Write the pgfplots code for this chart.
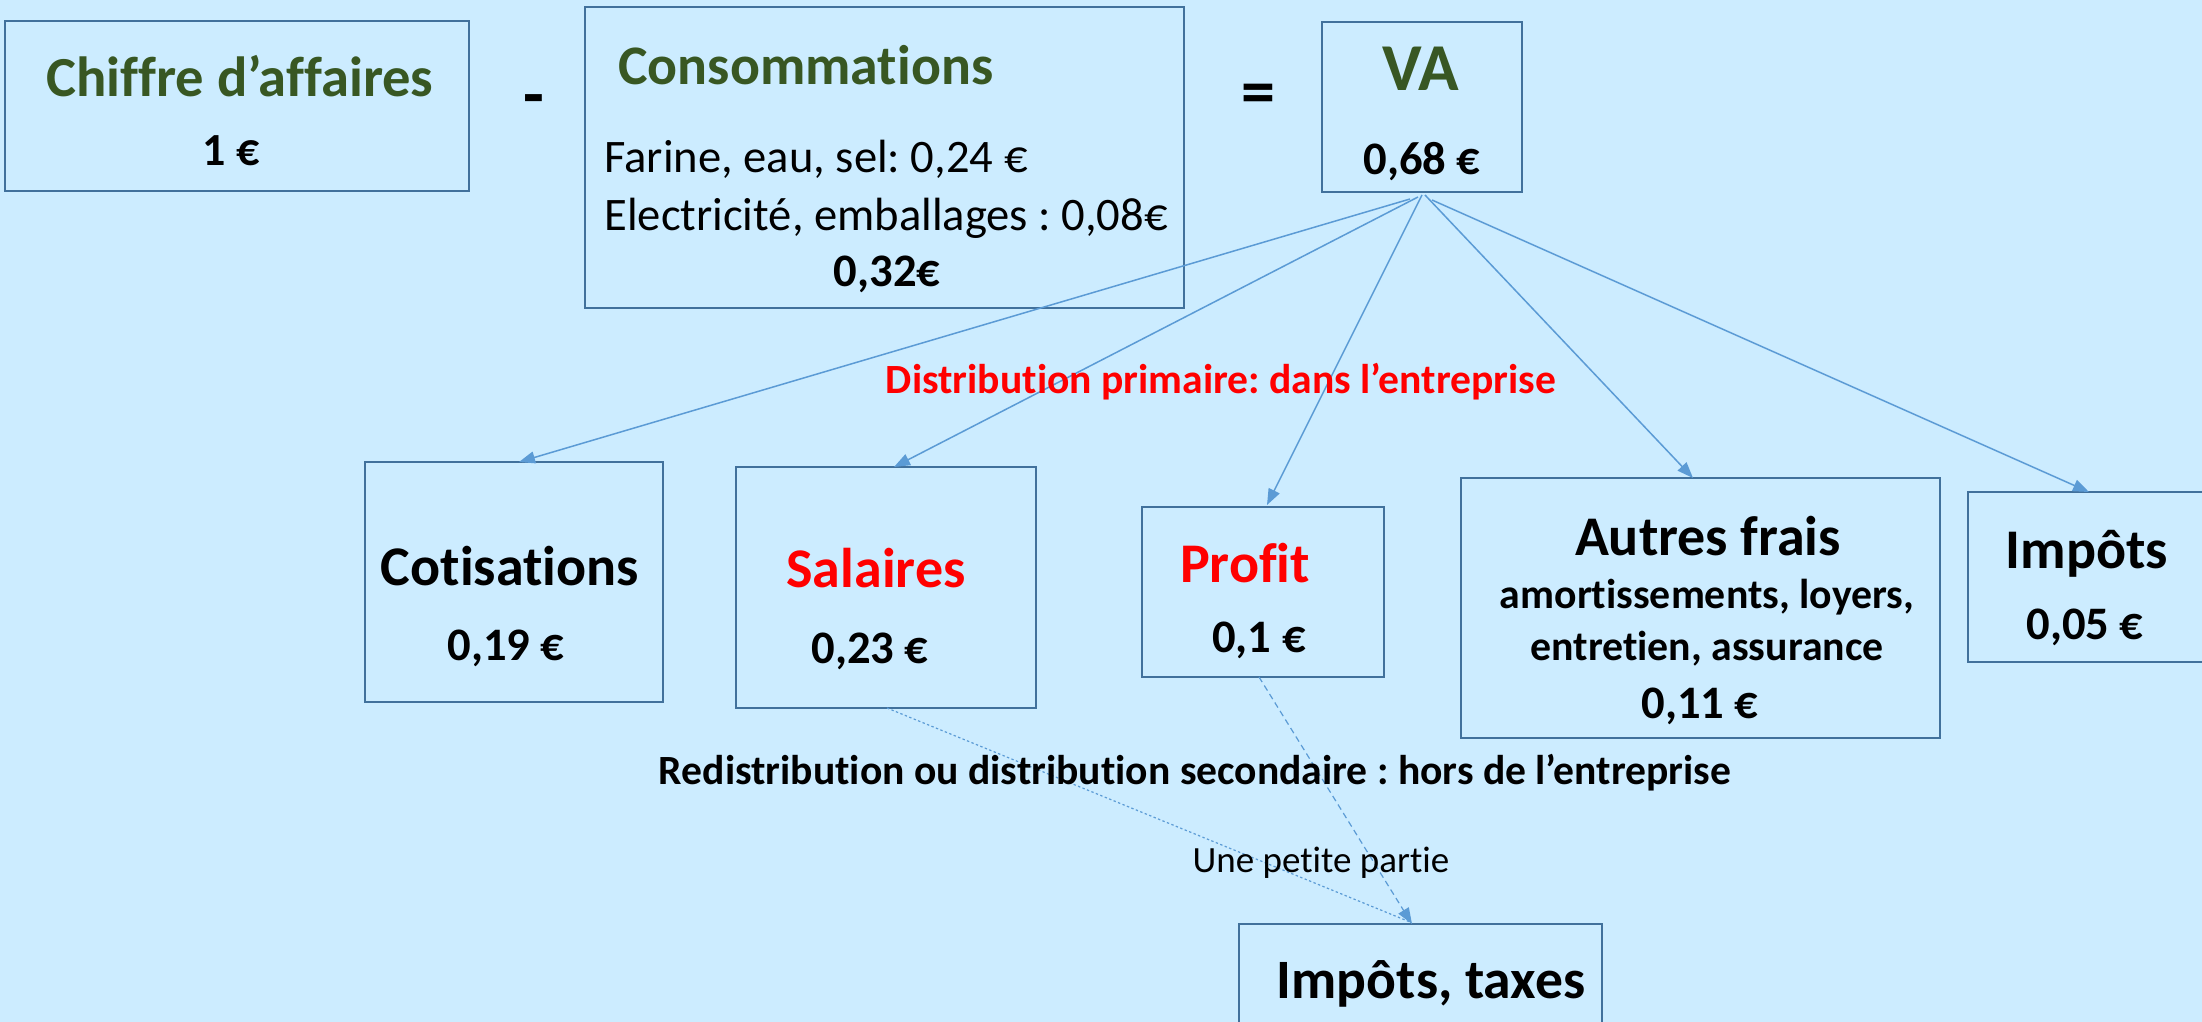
\documentclass[border=0pt]{standalone}
\usepackage{pgfplots}
\pgfplotsset{compat=1.18}
\usepackage{fontspec}
\setmainfont{Carlito}[Ligatures={NoCommon}]
\usetikzlibrary{arrows.meta}
\definecolor{bg}{RGB}{204,236,255}
\definecolor{boxc}{RGB}{65,113,156}
\definecolor{arr}{RGB}{91,155,213}
\definecolor{grn}{RGB}{56,87,35}
\newcommand{\fs}[1]{\fontsize{#1}{#1}\selectfont}
\frenchspacing
\begin{document}
\frenchspacing
\begin{tikzpicture}
\begin{axis}[name=ax, scale only axis, width=1101pt, height=511pt,
  xmin=0, xmax=2202, ymin=0, ymax=1022, y dir=reverse, hide axis, clip=false]
\fill[bg] (0,0) rectangle (2202,1022);
% boxes
\begin{scope}[draw=boxc, line width=1.3pt]
\draw (5,21) rectangle (469,191);
\draw (585,7) rectangle (1184,308);
\draw (1322,22) rectangle (1522,192);
\draw (365,462) rectangle (663,702);
\draw (736,467) rectangle (1036,708);
\draw (1142,507) rectangle (1384,677);
\draw (1461,478) rectangle (1940,738);
\draw (1968,492) rectangle (2210,662);
\draw (1239,1030) -- (1239,924) -- (1602,924) -- (1602,1030);
\end{scope}
% arrows
\begin{scope}[draw=arr, line width=0.75pt, -{Triangle[length=8pt,width=6pt]}, arr]
\draw (1410,199) -- (519,462);
\draw (1418,197) -- (894,467);
\draw (1422,195) -- (1267,505);
\draw (1425,195) -- (1693,478);
\draw (1432,200) -- (2089,492);
\end{scope}
\draw[arr, line width=0.6pt, dash pattern=on 1.2pt off 1.2pt] (887,708) -- (1410,922);
\draw[arr, line width=0.6pt, dash pattern=on 3pt off 2pt, -{Triangle[length=8pt,width=6pt]}] (1259,677) -- (1412,924);
% texts
\node[anchor=base, text=grn, font=\fs{28.3}\bfseries, inner sep=0] at (240,97) {Chiffre d’affaires};
\node[anchor=base, font=\fs{23}\bfseries, inner sep=0] at (231,166) {1 €};
\node[anchor=center, font=\fs{34}\bfseries, inner sep=0] at (534,106) {-};
\node[anchor=base west, text=grn, font=\fs{27.9}\bfseries, inner sep=0] at (618,85) {Consommations};
\node[anchor=base west, font=\fs{23.3}, inner sep=0] at (604,173) {Farine, eau, sel: 0,24 €};
\node[anchor=base west, font=\fs{23.3}, inner sep=0] at (604,230) {Electricité, emballages : 0,08€};
\node[anchor=base, font=\fs{23.3}\bfseries, inner sep=0] at (887,286) {0,32€};
\node[anchor=center, font=\fs{34}\bfseries, inner sep=0] at (1258,99) {=};
\node[anchor=base, text=grn, font=\fs{33.5}\bfseries, inner sep=0] at (1421,91) {VA};
\node[anchor=base, font=\fs{23.3}\bfseries, inner sep=0] at (1422,175) {0,68 €};
\node[anchor=base, text=red, font=\fs{20.8}\bfseries, inner sep=0] at (1221,393) {Distribution primaire: dans l’entreprise};
\node[anchor=base, font=\fs{28}\bfseries, inner sep=0] at (510,585) {Cotisations};
\node[anchor=base, font=\fs{23.3}\bfseries, inner sep=0] at (506,660) {0,19 €};
\node[anchor=base, text=red, font=\fs{28}\bfseries, inner sep=0] at (876,587) {Salaires};
\node[anchor=base, font=\fs{23.3}\bfseries, inner sep=0] at (870,663) {0,23 €};
\node[anchor=base, text=red, font=\fs{28}\bfseries, inner sep=0] at (1245,582) {Profit};
\node[anchor=base, font=\fs{23.3}\bfseries, inner sep=0] at (1259,652) {0,1 €};
\node[anchor=base, font=\fs{28}\bfseries, inner sep=0] at (1708,555) {Autres frais};
\node[anchor=base, font=\fs{20.9}\bfseries, inner sep=0] at (1707,608) {amortissements, loyers,};
\node[anchor=base, font=\fs{20.9}\bfseries, inner sep=0] at (1707,660) {entretien, assurance};
\node[anchor=base, font=\fs{23.3}\bfseries, inner sep=0] at (1700,718) {0,11 €};
\node[anchor=base, font=\fs{28}\bfseries, inner sep=0] at (2087,568) {Impôts};
\node[anchor=base, font=\fs{23.3}\bfseries, inner sep=0] at (2085,639) {0,05 €};
\node[anchor=base, font=\fs{20.8}\bfseries, inner sep=0] at (1195,784) {Redistribution ou distribution secondaire : hors de l’entreprise};
\node[anchor=base, font=\fs{18.5}, inner sep=0] at (1321,872) {Une petite partie};
\node[anchor=base, font=\fs{27.8}\bfseries, inner sep=0] at (1431,998) {Impôts, taxes};
\end{axis}
\pgfresetboundingbox
\path[use as bounding box] (ax.south west) rectangle (ax.north east);
\end{tikzpicture}
\end{document}
